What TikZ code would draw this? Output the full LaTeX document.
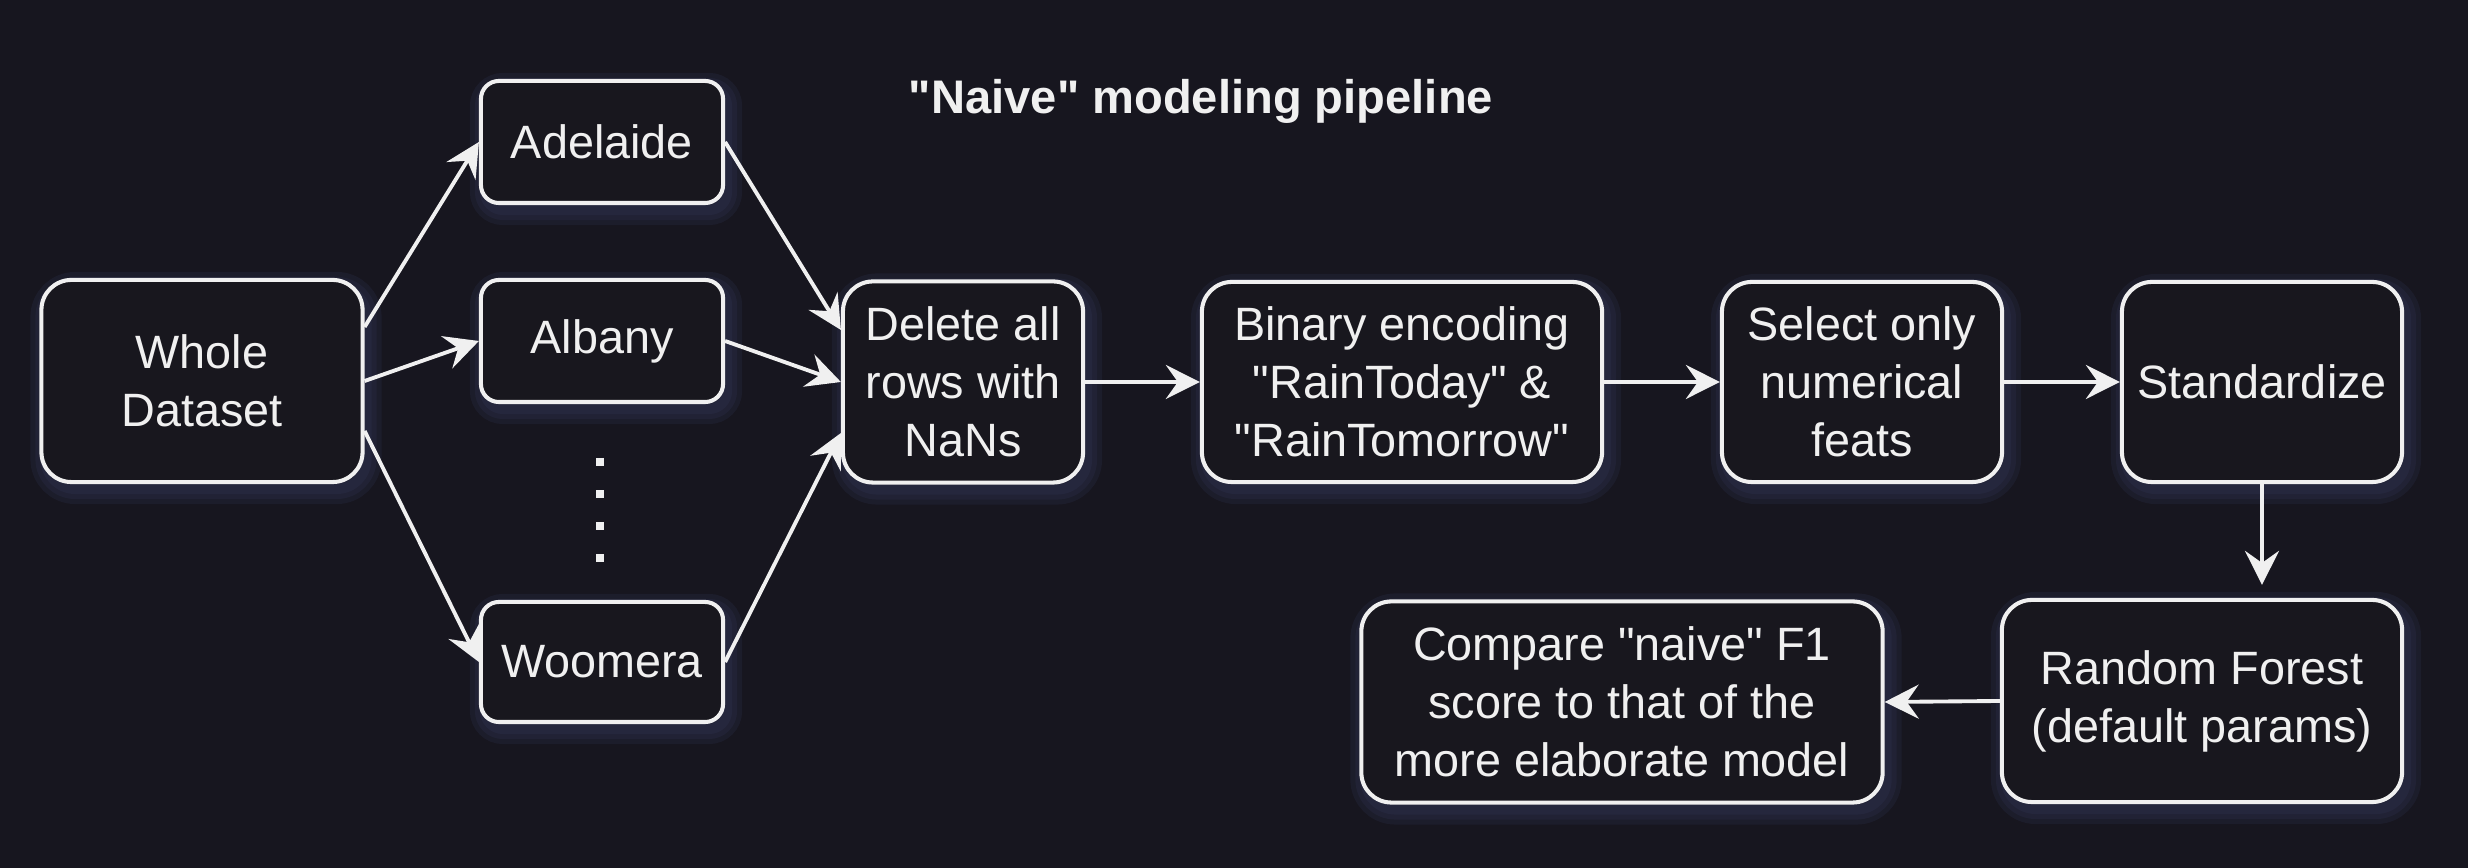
\documentclass[tikz,border=0pt]{standalone}
\usepackage{fontspec}
\setmainfont{Liberation Sans}[Ligatures=TeXOff]
\usetikzlibrary{arrows.meta,shadows}
\definecolor{bgc}{HTML}{17161F}
\definecolor{boxc}{HTML}{18171E}
\definecolor{fgc}{HTML}{F0F0F0}
\definecolor{glowc}{HTML}{3A4068}
\tikzset{
  glow/.style={general shadow={shadow xshift=0.04cm, shadow yshift=-0.07cm,
      draw=glowc, fill=none, line width=#1, opacity=0.17}},
  box/.style={glow=0.30cm, glow=0.20cm, glow=0.10cm,
    draw=fgc, fill=boxc, line width=1.15pt, text=fgc, align=center,
    inner sep=0pt, rounded corners=0.3cm,
    font=\fontsize{13.3}{16.5}\selectfont},
  smallbox/.style={box, rounded corners=0.18cm},
  arr/.style={draw=fgc, line width=1.1pt,
    -{Stealth[length=0.34cm, width=0.34cm, inset=0.12cm]}},
}
\begin{document}
\begin{tikzpicture}[x=0.01cm,y=-0.01cm]
\fill[bgc] (0,0) rectangle (2468,868);
\useasboundingbox (0,0) rectangle (2468,868);

\node[text=fgc, font=\bfseries\fontsize{13.4}{16}\selectfont] (title) at (1201,101) {"Naive" modeling pipeline};

\node[box, minimum width=3.21cm, minimum height=2.02cm] (whole) at (202,381) {Whole\\Dataset};
\node[smallbox, minimum width=2.42cm, minimum height=1.22cm] (adel) at (602,142) {Adelaide};
\node[smallbox, minimum width=2.42cm, minimum height=1.22cm] (alb) at (602,341) {Albany};
\node[smallbox, minimum width=2.42cm, minimum height=1.20cm] (woo) at (602,662) {Woomera};
\node[box, minimum width=2.40cm, minimum height=2.01cm] (del) at (963,382) {Delete all\\rows with\\NaNs};
\node[box, minimum width=4.00cm, minimum height=2.00cm] (bin) at (1402,382) {Binary encoding\\"RainToday" \&\\"RainTomorrow"};
\node[box, minimum width=2.80cm, minimum height=2.00cm] (sel) at (1862,382) {Select only\\numerical\\feats};
\node[box, minimum width=2.80cm, minimum height=2.00cm] (std) at (2262,382) {Standardize};
\node[box, minimum width=4.00cm, minimum height=2.02cm] (rf) at (2202,701) {Random Forest\\(default params)};
\node[box, minimum width=5.21cm, minimum height=2.01cm] (cmp) at (1622,702) {Compare "naive" F1\\score to that of the\\more elaborate model};

% vertical ellipsis
\coordinate (dtop) at (600,458);
\coordinate (dbot) at (600,562);
\draw[fgc, line width=0.08cm, dash pattern=on 0.08cm off 0.24cm] (dtop) -- (dbot);

% connectors
\draw[arr] ([yshift=0.54cm]whole.east) -- (adel.west);
\draw[arr] (whole.east) -- (alb.west);
\draw[arr] ([yshift=-0.50cm]whole.east) -- (woo.west);
\draw[arr] (adel.east) -- ([yshift=0.52cm]del.west);
\draw[arr] (alb.east) -- (del.west);
\draw[arr] (woo.east) -- ([yshift=-0.51cm]del.west);
\draw[arr] (del) -- (bin);
\draw[arr] (bin) -- (sel);
\draw[arr] (sel) -- (std);
\draw[arr, shorten >=0.13cm] (std.south) -- (std.south |- rf.north);
\draw[arr] (rf.west) -- (cmp.east);
\end{tikzpicture}
\end{document}
